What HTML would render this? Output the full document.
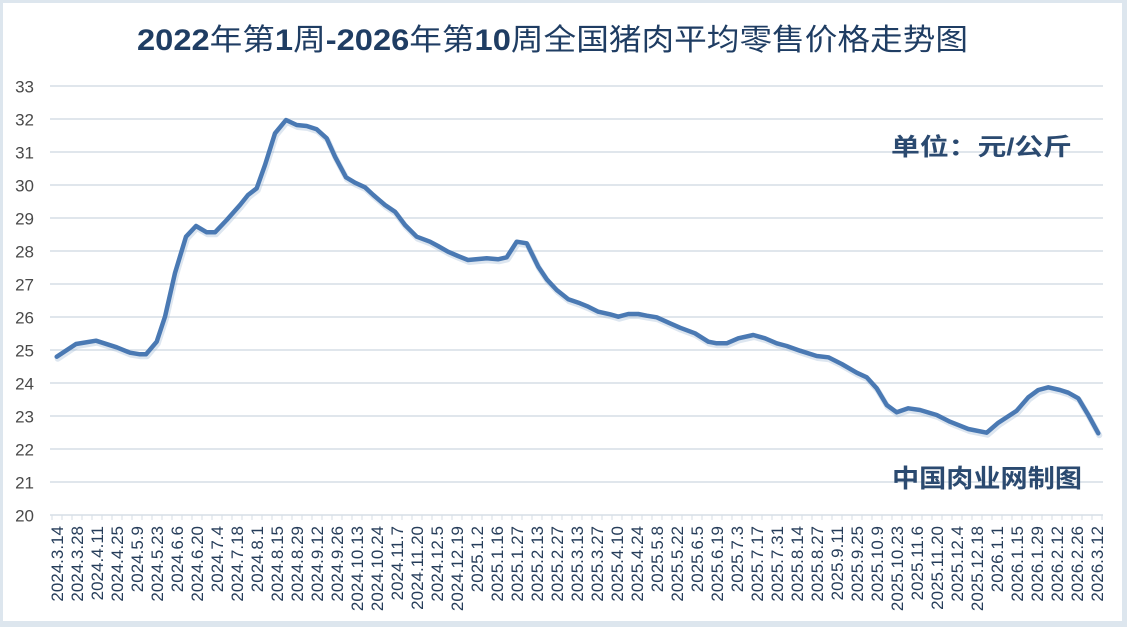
<!DOCTYPE html>
<html><head><meta charset="utf-8"><style>
html,body{margin:0;padding:0;background:#fff;}
svg{display:block;}
</style></head><body>
<svg width="1127" height="627" viewBox="0 0 1127 627" xmlns="http://www.w3.org/2000/svg">
<rect x="0" y="0" width="1127" height="627" fill="#dde6ee"/>
<rect x="3" y="3" width="1119" height="618" fill="#ffffff"/>
<g stroke="#d6dee6" stroke-width="1.6">
<line x1="50" y1="86" x2="1103" y2="86"/>
<line x1="50" y1="119" x2="1103" y2="119"/>
<line x1="50" y1="152" x2="1103" y2="152"/>
<line x1="50" y1="185" x2="1103" y2="185"/>
<line x1="50" y1="218" x2="1103" y2="218"/>
<line x1="50" y1="251" x2="1103" y2="251"/>
<line x1="50" y1="284" x2="1103" y2="284"/>
<line x1="50" y1="317" x2="1103" y2="317"/>
<line x1="50" y1="350" x2="1103" y2="350"/>
<line x1="50" y1="383" x2="1103" y2="383"/>
<line x1="50" y1="416" x2="1103" y2="416"/>
<line x1="50" y1="449" x2="1103" y2="449"/>
<line x1="50" y1="482" x2="1103" y2="482"/>
<line x1="50" y1="515" x2="1103" y2="515"/>
</g>
<path stroke="#d6dee6" stroke-width="1" fill="none" d="M52,515v5M62,515v5M72,515v5M82,515v5M92,515v5M102,515v5M112,515v5M122,515v5M132,515v5M142,515v5M152,515v5M162,515v5M172,515v5M182,515v5M192,515v5M202,515v5M212,515v5M222,515v5M232,515v5M242,515v5M252,515v5M262,515v5M272,515v5M282,515v5M292,515v5M302,515v5M312,515v5M322,515v5M332,515v5M342,515v5M352,515v5M362,515v5M372,515v5M382,515v5M392,515v5M402,515v5M412,515v5M422,515v5M432,515v5M442,515v5M452,515v5M462,515v5M472,515v5M482,515v5M492,515v5M502,515v5M512,515v5M522,515v5M532,515v5M542,515v5M552,515v5M562,515v5M572,515v5M582,515v5M592,515v5M602,515v5M612,515v5M622,515v5M632,515v5M642,515v5M652,515v5M662,515v5M672,515v5M682,515v5M692,515v5M702,515v5M712,515v5M722,515v5M732,515v5M742,515v5M752,515v5M762,515v5M772,515v5M782,515v5M792,515v5M802,515v5M812,515v5M822,515v5M832,515v5M842,515v5M852,515v5M862,515v5M872,515v5M882,515v5M892,515v5M902,515v5M912,515v5M922,515v5M932,515v5M942,515v5M952,515v5M962,515v5M972,515v5M982,515v5M992,515v5M1002,515v5M1012,515v5M1022,515v5M1032,515v5M1042,515v5M1052,515v5M1062,515v5M1072,515v5M1082,515v5M1092,515v5M1102,515v5"/>
<g font-family="Liberation Sans, sans-serif" font-size="17" fill="#4a4a4a" text-anchor="end">
<text x="34" y="92.5">33</text>
<text x="34" y="125.5">32</text>
<text x="34" y="158.5">31</text>
<text x="34" y="191.5">30</text>
<text x="34" y="224.5">29</text>
<text x="34" y="257.5">28</text>
<text x="34" y="290.5">27</text>
<text x="34" y="323.5">26</text>
<text x="34" y="356.5">25</text>
<text x="34" y="389.5">24</text>
<text x="34" y="422.5">23</text>
<text x="34" y="455.5">22</text>
<text x="34" y="488.5">21</text>
<text x="34" y="521.5">20</text>
</g>
<g font-family="Liberation Sans, sans-serif" font-size="17" fill="#263d5a" text-anchor="end">
<text transform="translate(63,526) rotate(-90)">2024.3.14</text>
<text transform="translate(83,526) rotate(-90)">2024.3.28</text>
<text transform="translate(103,526) rotate(-90)">2024.4.11</text>
<text transform="translate(123,526) rotate(-90)">2024.4.25</text>
<text transform="translate(143,526) rotate(-90)">2024.5.9</text>
<text transform="translate(163,526) rotate(-90)">2024.5.23</text>
<text transform="translate(183,526) rotate(-90)">2024.6.6</text>
<text transform="translate(203,526) rotate(-90)">2024.6.20</text>
<text transform="translate(223,526) rotate(-90)">2024.7.4</text>
<text transform="translate(243,526) rotate(-90)">2024.7.18</text>
<text transform="translate(263,526) rotate(-90)">2024.8.1</text>
<text transform="translate(283,526) rotate(-90)">2024.8.15</text>
<text transform="translate(303,526) rotate(-90)">2024.8.29</text>
<text transform="translate(323,526) rotate(-90)">2024.9.12</text>
<text transform="translate(343,526) rotate(-90)">2024.9.26</text>
<text transform="translate(363,526) rotate(-90)">2024.10.13</text>
<text transform="translate(383,526) rotate(-90)">2024.10.24</text>
<text transform="translate(403,526) rotate(-90)">2024.11.7</text>
<text transform="translate(423,526) rotate(-90)">2024.11.20</text>
<text transform="translate(443,526) rotate(-90)">2024.12.5</text>
<text transform="translate(463,526) rotate(-90)">2024.12.19</text>
<text transform="translate(483,526) rotate(-90)">2025.1.2</text>
<text transform="translate(503,526) rotate(-90)">2025.1.16</text>
<text transform="translate(523,526) rotate(-90)">2025.1.27</text>
<text transform="translate(543,526) rotate(-90)">2025.2.13</text>
<text transform="translate(563,526) rotate(-90)">2025.2.27</text>
<text transform="translate(583,526) rotate(-90)">2025.3.13</text>
<text transform="translate(603,526) rotate(-90)">2025.3.27</text>
<text transform="translate(623,526) rotate(-90)">2025.4.10</text>
<text transform="translate(643,526) rotate(-90)">2025.4.24</text>
<text transform="translate(663,526) rotate(-90)">2025.5.8</text>
<text transform="translate(683,526) rotate(-90)">2025.5.22</text>
<text transform="translate(703,526) rotate(-90)">2025.6.5</text>
<text transform="translate(723,526) rotate(-90)">2025.6.19</text>
<text transform="translate(743,526) rotate(-90)">2025.7.3</text>
<text transform="translate(763,526) rotate(-90)">2025.7.17</text>
<text transform="translate(783,526) rotate(-90)">2025.7.31</text>
<text transform="translate(803,526) rotate(-90)">2025.8.14</text>
<text transform="translate(823,526) rotate(-90)">2025.8.27</text>
<text transform="translate(843,526) rotate(-90)">2025.9.11</text>
<text transform="translate(863,526) rotate(-90)">2025.9.25</text>
<text transform="translate(883,526) rotate(-90)">2025.10.9</text>
<text transform="translate(903,526) rotate(-90)">2025.10.23</text>
<text transform="translate(923,526) rotate(-90)">2025.11.6</text>
<text transform="translate(943,526) rotate(-90)">2025.11.20</text>
<text transform="translate(963,526) rotate(-90)">2025.12.4</text>
<text transform="translate(983,526) rotate(-90)">2025.12.18</text>
<text transform="translate(1003,526) rotate(-90)">2026.1.1</text>
<text transform="translate(1023,526) rotate(-90)">2026.1.15</text>
<text transform="translate(1043,526) rotate(-90)">2026.1.29</text>
<text transform="translate(1063,526) rotate(-90)">2026.2.12</text>
<text transform="translate(1083,526) rotate(-90)">2026.2.26</text>
<text transform="translate(1103,526) rotate(-90)">2026.3.12</text>
</g>
<polyline fill="none" stroke="#9fb6d3" stroke-opacity="0.35" stroke-width="6" stroke-linejoin="round" stroke-linecap="round" transform="translate(1,2)" points="56.7,356.7 76,344 96,340.7 116.7,347.3 130,352.7 140,354.3 146,354.3 156.7,341.7 165,316.7 175,273 186,236.7 196,226 206.7,232.3 215,232.3 226.7,220 240,205 248,195 256.7,188.3 265,165 275,133.3 286,120 296.7,125 306.7,126 316.7,129.3 326.7,138.3 335,156.7 346,177.3 355,182.7 365,187.3 373.3,195 385,205 395,211.7 405,225 416.7,236.7 430,241.7 438,246 448,251.7 458,256 468,260 486.7,258.3 498,259.3 506.7,257.3 516.7,241.7 526.7,243.3 538.3,266.7 546.7,279.3 556.7,290 568.3,299.3 580,303.3 588.3,306.7 598.3,311.7 610,314.3 618.3,316.7 628.3,314 638.3,314 646.7,315.7 656.7,317.3 670,323.3 680,327.7 695,333.3 708.3,341.7 716.7,343.3 726.7,343.3 738.3,338.3 753.3,335 765,338.3 776.7,343.3 786.7,346 800,350.7 816.7,356 828.3,357.3 841.7,364 856.7,372.7 866.7,377.3 876.7,388.3 886.7,405 896.7,412.3 908.3,408.3 920,410 936.7,415 950,421.7 968.3,429 986.7,432.7 998.3,422.7 1016.7,410.7 1028.3,397.3 1038.3,390 1048.3,387.3 1060,390 1068.3,392.7 1078.3,398.3 1088.3,415 1098.3,433.3"/>
<polyline fill="none" stroke="#4a79b3" stroke-width="4.5" stroke-linejoin="round" stroke-linecap="round" points="56.7,356.7 76,344 96,340.7 116.7,347.3 130,352.7 140,354.3 146,354.3 156.7,341.7 165,316.7 175,273 186,236.7 196,226 206.7,232.3 215,232.3 226.7,220 240,205 248,195 256.7,188.3 265,165 275,133.3 286,120 296.7,125 306.7,126 316.7,129.3 326.7,138.3 335,156.7 346,177.3 355,182.7 365,187.3 373.3,195 385,205 395,211.7 405,225 416.7,236.7 430,241.7 438,246 448,251.7 458,256 468,260 486.7,258.3 498,259.3 506.7,257.3 516.7,241.7 526.7,243.3 538.3,266.7 546.7,279.3 556.7,290 568.3,299.3 580,303.3 588.3,306.7 598.3,311.7 610,314.3 618.3,316.7 628.3,314 638.3,314 646.7,315.7 656.7,317.3 670,323.3 680,327.7 695,333.3 708.3,341.7 716.7,343.3 726.7,343.3 738.3,338.3 753.3,335 765,338.3 776.7,343.3 786.7,346 800,350.7 816.7,356 828.3,357.3 841.7,364 856.7,372.7 866.7,377.3 876.7,388.3 886.7,405 896.7,412.3 908.3,408.3 920,410 936.7,415 950,421.7 968.3,429 986.7,432.7 998.3,422.7 1016.7,410.7 1028.3,397.3 1038.3,390 1048.3,387.3 1060,390 1068.3,392.7 1078.3,398.3 1088.3,415 1098.3,433.3"/>
<text x="137" y="50" font-family="Liberation Sans, Noto Sans CJK SC, sans-serif" font-size="30" fill="#1f3d63" textLength="831" lengthAdjust="spacingAndGlyphs"><tspan font-weight="bold">2022</tspan>年第<tspan font-weight="bold">1</tspan>周<tspan font-weight="bold">-2026</tspan>年第<tspan font-weight="bold">10</tspan>周全国猪肉平均零售价格走势图</text>
<text x="891" y="155" font-family="Liberation Sans, Noto Sans CJK SC, sans-serif" font-size="24" font-weight="bold" fill="#2b4a70" textLength="181" lengthAdjust="spacingAndGlyphs">单位：元/公斤</text>
<text x="892" y="487" font-family="Liberation Sans, Noto Sans CJK SC, sans-serif" font-size="25" font-weight="bold" fill="#2b4a70" textLength="190" lengthAdjust="spacingAndGlyphs">中国肉业网制图</text>
</svg>
</body></html>
